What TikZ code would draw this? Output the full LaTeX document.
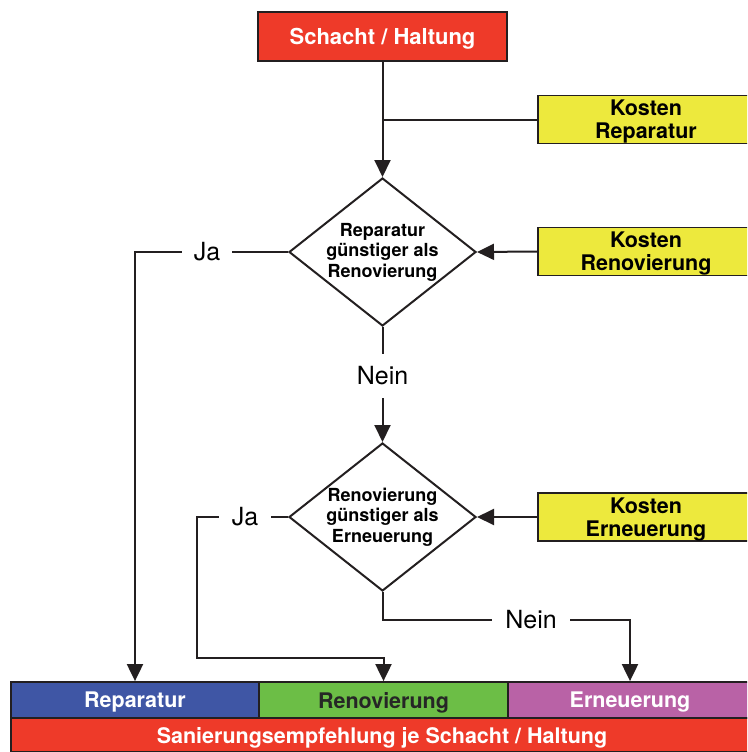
\documentclass[tikz,border=0pt]{standalone}
\usepackage{fontspec}
\setmainfont{TeX Gyre Heros}
\usetikzlibrary{arrows.meta,shapes.geometric}
\definecolor{cred}{RGB}{238,58,41}
\definecolor{cyel}{RGB}{237,233,61}
\definecolor{cblue}{RGB}{63,86,165}
\definecolor{cgreen}{RGB}{108,190,70}
\definecolor{cpurp}{RGB}{185,98,166}
\definecolor{cline}{RGB}{35,31,32}
\tikzset{
  box/.style={draw=cline,line width=1.8pt,inner sep=0pt,align=center,font=\bfseries,text depth=0pt},
  costbox/.style={box,fill=cyel,minimum width=216pt,minimum height=48pt,font=\fontsize{21.5}{23}\selectfont\bfseries},
  decision/.style={draw=cline,line width=2pt,shape=diamond,inner sep=0pt,minimum width=187pt,minimum height=148pt},
  dtext/.style={inner sep=0pt,align=center,font=\fontsize{18}{20.5}\selectfont\bfseries},
  lab/.style={inner sep=0pt,font=\fontsize{25}{26}\selectfont},
  conn/.style={draw=cline,line width=2pt},
  arr/.style={conn,-{Triangle[length=17pt,width=16pt]}},
  result/.style={box,minimum height=36pt,text=white,font=\fontsize{21.5}{23}\selectfont\bfseries},
}
\begin{document}
\begin{tikzpicture}[x=1pt,y=-1pt]
\useasboundingbox (0,0) rectangle (747,752);
\clip (0,0) rectangle (747,752);
\node[box,fill=cred,text=white,minimum width=249pt,minimum height=49pt,font=\fontsize{22}{24}\selectfont\bfseries] (top) at (382.5,36.5) {Schacht / Haltung};
\node[costbox] (kr) at (646,119.5) {Kosten\\Reparatur};
\node[decision] (d1) at (382.5,252) {};
\node[dtext] (d1t) at (d1.center) {Reparatur\\günstiger als\\Renovierung};
\node[costbox] (kn) at (646,251.5) {Kosten\\Renovierung};
\node[lab,minimum width=50pt] (ja1) at (207,252) {Ja};
\node[lab,minimum height=44pt] (nein1) at (382.5,376) {Nein};
\node[decision] (d2) at (382.5,517) {};
\node[dtext] (d2t) at (d2.center) {Renovierung\\günstiger als\\Erneuerung};
\node[costbox] (ke) at (646,517) {Kosten\\Erneuerung};
\node[lab,minimum width=52pt] (ja2) at (245,517) {Ja};
\node[lab,minimum width=78pt] (nein2) at (531,620) {Nein};
\coordinate (j2c) at (197,658);
\node[result,fill=cblue,minimum width=248pt] (rep) at (135,700) {Reparatur};
\node[result,fill=cgreen,text=black!85,minimum width=249pt] (reno) at (383.5,700) {Renovierung};
\node[result,fill=cpurp,minimum width=244pt] (ern) at (630,700) {Erneuerung};
\node[box,fill=cred,text=white,minimum width=742pt,minimum height=34pt,font=\fontsize{21.5}{23}\selectfont\bfseries] (san) at (382,735) {Sanierungsempfehlung je Schacht / Haltung};
% connectors
\draw[arr] (top.south) -- (d1.north);
\draw[conn] (kr.west) -- (kr.west -| top.south);
\draw[arr] (kn.west) -- (d1.east);
\draw[conn] (d1.west) -- (ja1.east);
\draw[arr] (ja1.west) -| (rep.north);
\draw[conn] (d1.south) -- (nein1.north);
\draw[arr] (nein1.south) -- (d2.north);
\draw[arr] (ke.west) -- (d2.east);
\draw[conn] (d2.west) -- (ja2.east);
\draw[arr] (ja2.west) -| (j2c) -| (reno.north);
\draw[conn] (d2.south) |- (nein2.west);
\draw[arr] (nein2.east) -| (ern.north);
\end{tikzpicture}
\end{document}
